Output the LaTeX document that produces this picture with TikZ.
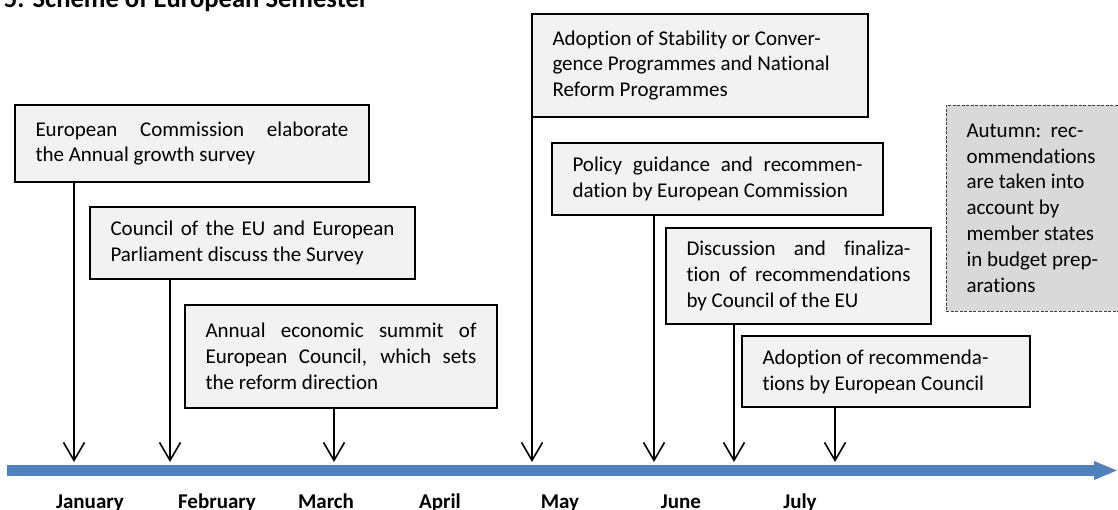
\documentclass[tikz,border=0pt]{standalone}
\usepackage{fontspec}
\setmainfont{Carlito}[Ligatures=NoCommon]
\usetikzlibrary{positioning,arrows.meta}
\definecolor{boxgray}{HTML}{F2F2F2}
\definecolor{autumngray}{HTML}{D9D9D9}
\definecolor{barblue}{HTML}{4F81BD}
\newcommand{\spread}[1]{\makebox[\hsize][s]{#1}}

\begin{document}
\begin{tikzpicture}[x=1pt, y=-1pt,
    every node/.style={font=\fontsize{21}{25.8}\selectfont, inner sep=0pt, outer sep=0pt,
      execute at begin node={\spaceskip=0pt\xspaceskip=0pt}},
    stage/.style={draw, line width=1.5pt, fill=boxgray, anchor=north west, align=left, inner xsep=20.5pt},
    autumn/.style={stage, draw=black!75, line width=0.9pt, dash pattern=on 3pt off 1.5pt, fill=autumngray},
    tick/.style={line width=1.6pt, -{Straight Barb[length=18pt, width=21pt]}},
    month/.style={font=\fontsize{21}{25}\selectfont\bfseries, anchor=base}]
        \useasboundingbox (0,0) rectangle (1118,510);
        \clip (0,0) rectangle (1118,510);

        % Heading, cut at the top edge
        \node[anchor=base west, font=\fontsize{26.6}{30}\selectfont\bfseries] (title) at (4,8) {5. Scheme of European Semester};

        % Stages of the semester
        \node[stage, text width=313pt, minimum height=77pt] (ags) at (15,105)
        {\spread{European Commission elaborate}\\ the Annual growth survey};
        \node[stage, text width=284pt, minimum height=72pt] (disc) at (90,207)
        {\spread{Council of the EU and European}\\ Parliament discuss the Survey};
        \node[stage, text width=271pt, minimum height=103pt] (summit) at (185,305)
        {\spread{Annual economic summit of}\\ \spread{European Council, which sets}\\ the reform direction};
        \node[stage, text width=295pt, minimum height=103pt] (scp) at (532,14)
        {Adoption of Stability or Conver-\\ gence Programmes and National\\ Reform Programmes};
        \node[stage, text width=290pt, minimum height=72pt] (guide) at (552,143)
        {\spread{Policy guidance and recommen-}\\ dation by European Commission};
        \node[stage, text width=224pt, minimum height=96pt] (final) at (666,228)
        {\spread{Discussion and finaliza-}\\ \spread{tion of recommendations}\\ by Council of the EU};
        \node[stage, text width=247pt, minimum height=71pt] (adopt) at (742,336)
        {Adoption of recommenda-\\ tions by European Council};

        % Autumn note, running off the right edge
        \node[autumn, text width=160pt, minimum height=206pt] (fall) at (946,105)
        {Autumn:~~rec-\\ ommendations\\ are taken into\\ account by\\ member states\\ in budget prep-\\ arations};

        % Time line
        \coordinate (bar-l) at (7,470.5);
        \coordinate (bar-r) at (1118,470.5);
        \draw[barblue, line width=11.5pt, -{Triangle[length=24pt, width=17pt]}] (bar-l) -- (bar-r);

        % Where each stage meets the time line
        \coordinate (ags-t) at (74,462);
        \coordinate (disc-t) at (170,462);
        \coordinate (summit-t) at (334,462);
        \coordinate (scp-t) at (532,462);
        \coordinate (guide-t) at (654,462);
        \coordinate (final-t) at (734,462);
        \coordinate (adopt-t) at (835,462);

        \draw[tick] (ags.south -| ags-t) -- (ags-t);
        \draw[tick] (disc.south -| disc-t) -- (disc-t);
        \draw[tick] (summit.south -| summit-t) -- (summit-t);
        \draw[tick] (scp.south west) -- (scp-t);
        \draw[tick] (guide.south -| guide-t) -- (guide-t);
        \draw[tick] (final.south -| final-t) -- (final-t);
        \draw[tick] (adopt.south -| adopt-t) -- (adopt-t);

        % Months under the line
        \node[month] (jan) at (90,508) {January};
        \node[month] (feb) at (217,508) {February};
        \node[month] (mar) at (326,508) {March};
        \node[month] (apr) at (440,508) {April};
        \node[month] (may) at (560,508) {May};
        \node[month] (jun) at (681,508) {June};
        \node[month] (jul) at (800,508) {July};
\end{tikzpicture}
\end{document}
